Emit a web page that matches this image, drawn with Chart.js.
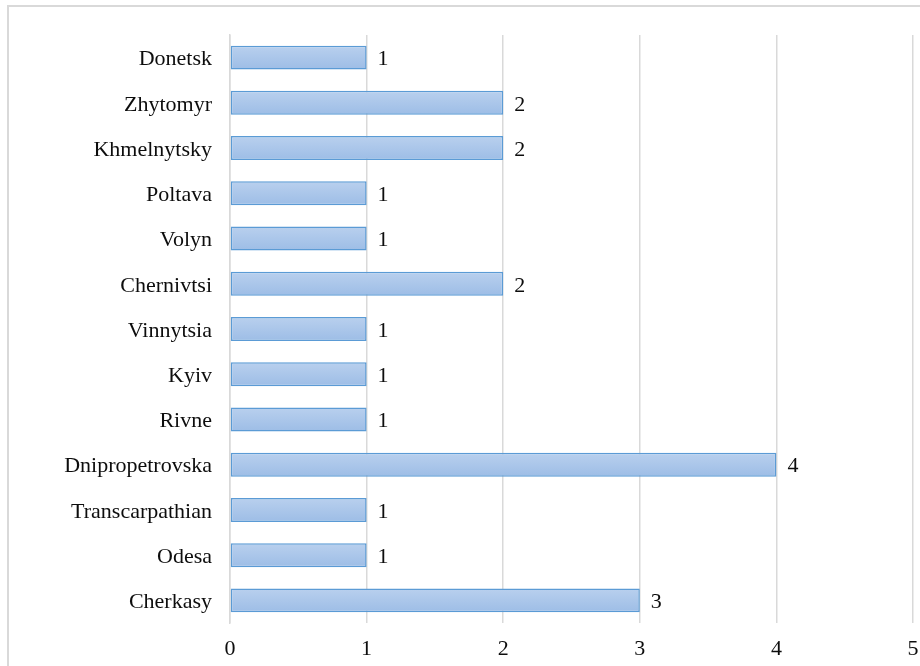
<!DOCTYPE html>
<html lang="en">
<head>
<meta charset="UTF-8">
<title>Regions</title>
<script src="https://cdn.jsdelivr.net/npm/chart.js"></script>
<style>
body { margin: 0; padding: 0; background: #fff; overflow: hidden; }
#frame {
  position: absolute; left: 7px; top: 5px;
  width: 940px; height: 700px;
  border: 2px solid #d9d9d9;
}
#wrap { position: absolute; left: 0; top: 0; width: 920px; height: 666px; }
</style>
</head>
<body>
<div id="frame"></div>
<div id="wrap"><canvas id="regionChart" width="920" height="666"></canvas></div>

<script>
const regions = ['Donetsk', 'Zhytomyr', 'Khmelnytsky', 'Poltava', 'Volyn', 'Chernivtsi',
  'Vinnytsia', 'Kyiv', 'Rivne', 'Dnipropetrovska', 'Transcarpathian', 'Odesa', 'Cherkasy'];
const counts = [1, 2, 2, 1, 1, 2, 1, 1, 1, 4, 1, 1, 3];
const xTicks = [0, 1, 2, 3, 4, 5];

const BAR_PCT = 0.53;
const FONT = { family: "'Liberation Serif', 'Times New Roman', serif", size: 22 };
const TEXT = '#0d0d0d';

// gradient for each bar, light at top, darker at bottom
function barFill(ctx) {
  const chart = ctx.chart;
  const y = chart.scales.y;
  if (!y || !chart.chartArea) return '#a9c5e9';
  const c = y.getPixelForValue(ctx.dataIndex);
  const h = (y.height / regions.length) * BAR_PCT / 2;
  const g = chart.ctx.createLinearGradient(0, c - h, 0, c + h);
  g.addColorStop(0, '#b9d0ee');
  g.addColorStop(1, '#9dbde6');
  return g;
}

// value labels at bar end
const valueLabels = {
  id: 'valueLabels',
  afterDatasetsDraw(chart) {
    const ctx = chart.ctx;
    const meta = chart.getDatasetMeta(0);
    ctx.save();
    ctx.font = FONT.size + 'px ' + FONT.family;
    ctx.fillStyle = TEXT;
    ctx.textAlign = 'left';
    ctx.textBaseline = 'middle';
    meta.data.forEach((bar, i) => {
      ctx.fillText(String(counts[i]), bar.x + 11, bar.y + 2);
    });
    ctx.restore();
  }
};

new Chart(document.getElementById('regionChart'), {
  type: 'bar',
  data: {
    labels: regions,
    datasets: [{
      data: counts,
      backgroundColor: barFill,
      borderColor: '#5b9bd5',
      borderWidth: 1.5,
      borderSkipped: false,
      barPercentage: BAR_PCT,
      categoryPercentage: 1
    }]
  },
  options: {
    indexAxis: 'y',
    responsive: false,
    animation: false,
    layout: { padding: { top: 35, right: 7, left: 0, bottom: 0 } },
    plugins: { legend: { display: false }, tooltip: { enabled: false } },
    scales: {
      x: {
        min: 0, max: 5,
        afterBuildTicks: s => { s.ticks = xTicks.map(v => ({ value: v })); },
        afterFit: s => { s.height = 43; s.paddingLeft = 0; s.paddingRight = 0; },
        grid: { color: '#d9d9d9', lineWidth: 1.5, drawTicks: false },
        border: { display: false },
        ticks: { font: FONT, color: TEXT, padding: 13 }
      },
      y: {
        afterFit: s => { s.width = 230; s.paddingTop = 0; s.paddingBottom = 0; },
        grid: { display: false, drawTicks: false },
        border: { display: true, color: '#d9d9d9', width: 1.5 },
        ticks: { font: FONT, color: TEXT, padding: 18, labelOffset: 2 }
      }
    }
  },
  plugins: [valueLabels]
});
</script>
</body>
</html>
